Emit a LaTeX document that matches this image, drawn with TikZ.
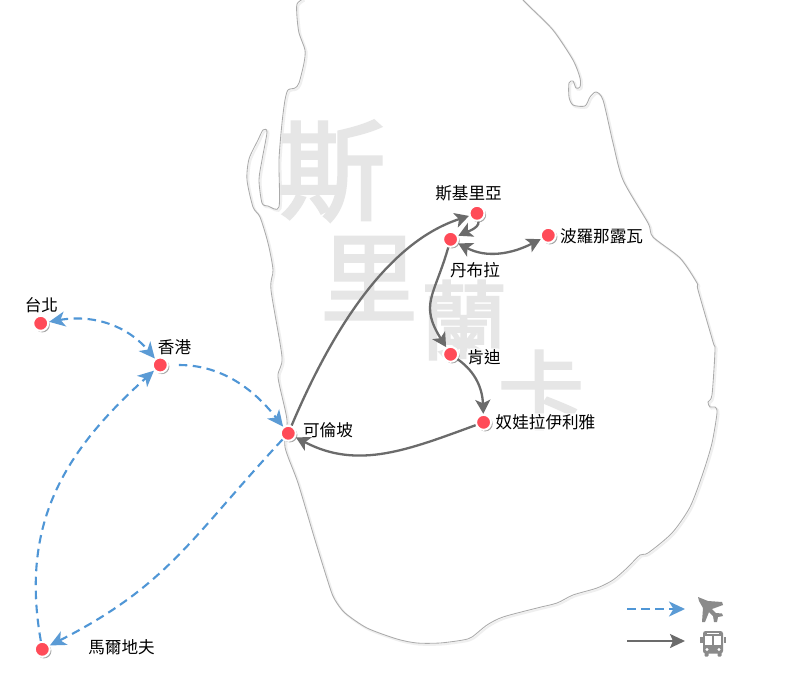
\documentclass[tikz,border=0pt]{standalone}
\usepackage{fontspec}
\setmainfont{Noto Sans CJK TC}
\newfontfamily\ghostfont[FakeBold=2.5]{Noto Sans CJK TC}
\usetikzlibrary{arrows.meta,shadows}
\definecolor{coast}{HTML}{ABABAB}
\definecolor{coastshade}{HTML}{EFEFEF}
\definecolor{mark}{HTML}{FF4B58}
\definecolor{flight}{HTML}{4F96D6}
\definecolor{flighthead}{HTML}{5B9BD5}
\definecolor{road}{HTML}{6B6B6B}
\definecolor{water}{HTML}{E6E6E6}
\definecolor{icon}{HTML}{8A8A8A}
\tikzset{
  stopdot/.style={circle,fill=mark,draw=white,line width=2pt,minimum size=15pt,inner sep=0pt,
    drop shadow={shadow xshift=1.6pt,shadow yshift=-1.6pt,fill=black,opacity=.35}},
  place/.style={font=\fontsize{16.6}{17}\selectfont,text=black,inner sep=1pt},
  halo/.style={fill=white,fill opacity=.85,text opacity=1,rounded corners=4pt},
  ghost/.style={text=water,inner sep=0pt},
  airhead/.tip={Stealth[length=16pt,width=15pt,inset=4.5pt,fill=flighthead,color=flighthead]},
  roadhead/.tip={Stealth[length=14pt,width=15pt,inset=3.5pt,fill=road]},
  airline/.style={draw=flight,line width=2.1pt,dash pattern=on 8.5pt off 5.5pt,-airhead},
  roadline/.style={draw=road,line width=2.3pt,-roadhead},
  both/.style={roadhead-roadhead},
  bothair/.style={airhead-airhead},
}
\newcommand{\coastpath}{
  plot[smooth,tension=.45] coordinates {
  (303,-1)(297,4)(297,17)(299,33)(305,50)(304,63)(299,83)(295,88)(288,90)(285,100)(282,123)(279,160)(279,207)
  (268,206)(262,203)(259,180)(262,160)(267,132)(263,130)(258,140)(249,159)(247,180)(253,207)(260,217)(268,243)
  (273,270)(271,290)(282,357)(278,377)(287,420)(285,447)(298,483)(315,540)(330,588)(335,600)(345,613)(367,628)
  (397,639)(417,643)(440,643)(463,640)(472,637)(487,625)(503,617)(537,608)(557,603)(573,595)(597,588)(613,580)
  (627,568)(640,555)(648,553)(672,533)(690,507)(703,473)(712,443)(717,413)(715,407)(710,407)(708,402)(712,395)
  (715,350)(713,342)(698,290)(697,283)(680,258)(653,237)(648,223)(623,180)(613,143)(603,100)(596,92)(590,97)
  (585,106)(573,105)(569,97)(569,83)(573,81)(576,88)(580,87)(580,78)(573,60)(553,30)(530,7)(522,-1)}
}
\begin{document}
\begin{tikzpicture}[x=1pt,y=-1pt]
\useasboundingbox (0,0) rectangle (785,689);
\fill[white] (0,0) rectangle (785,689);
% coast
\begin{scope}[shift={(1.5,1.5)}]
\draw[coastshade,line width=2pt] \coastpath;
\end{scope}
\draw[coast,line width=.85pt] \coastpath;
% watermark
\node[ghost,font=\fontsize{108}{108}\ghostfont\selectfont] (w1) at (331.5,171) {斯};
\node[ghost,font=\fontsize{97}{97}\ghostfont\selectfont] (w2) at (369,278) {里};
\node[ghost,font=\fontsize{86}{86}\ghostfont\selectfont] (w3) at (464,320) {蘭};
\node[ghost,font=\fontsize{86}{86}\ghostfont\selectfont] (w4) at (541,390) {卡};
% labels
\node[place] (l1) at (468.5,193) {斯基里亞};
\node[place] (l2) at (475,270) {丹布拉};
\node[place] (l3) at (601.5,236) {波羅那露瓦};
\node[place,halo] (l4) at (484,357) {肯迪};
\node[place,halo] (l5) at (545.5,422) {奴娃拉伊利雅};
\node[place] (l6) at (328,430) {可倫坡};
\node[place] (l7) at (121.5,647) {馬爾地夫};
\node[place] (l8) at (41.5,305) {台北};
\node[place] (l9) at (174.5,347) {香港};
% stops
\node[stopdot] (sigiriya) at (477,213.3) {};
\node[stopdot] (dambulla) at (450.6,239.3) {};
\node[stopdot] (polon) at (548.3,235.3) {};
\node[stopdot] (kandy) at (450.6,354.3) {};
\node[stopdot] (nuwara) at (483.6,422.3) {};
\node[stopdot] (colombo) at (288.3,433.3) {};
\node[stopdot] (male) at (42.3,649.3) {};
\node[stopdot] (taipei) at (40.7,323.3) {};
\node[stopdot] (hk) at (160.3,365) {};
% road connectors
\draw[roadline] (colombo) to[out=67,in=198,looseness=.85] (sigiriya);
\draw[roadline] (sigiriya) to[out=-80,in=25,looseness=.7] (dambulla);
\draw[roadline,both] (dambulla) to[out=-28,in=207,looseness=1] (polon);
\draw[roadline] (dambulla) to[out=-106,in=122,looseness=1.3] (kandy);
\draw[roadline] (kandy) to[out=-35,in=92,looseness=1] (nuwara);
\draw[roadline] (nuwara) to[out=200,in=-28,looseness=1] (colombo);
% flight connectors
\draw[airline,shorten <=10pt] (hk) to[out=0,in=128,looseness=1] (colombo);
\draw[airline,bothair] (taipei) to[out=10,in=130,looseness=1] (hk);
\draw[airline] (male) to[out=100,in=222,looseness=1.05] (hk);
\draw[airline] (colombo) to[out=227,in=27,looseness=1.1] (male);
% legend
\coordinate (a1) at (627,609);
\coordinate (a2) at (685,609);
\coordinate (b1) at (627,641);
\coordinate (b2) at (685,641);
\draw[airline] (a1) -- (a2);
\draw[draw=road,line width=1.9pt,-{Stealth[length=15pt,width=14pt,inset=3pt,fill=road]}] (b1) -- (b2);
% plane icon
\fill[icon] (698,597) -- (708,601) -- (722,602) -- (723,605) -- (712,609) -- (716,613) -- (722,613.5) -- (723,616)
  -- (718,617) -- (717,622) -- (714,622) -- (713,616) -- (709,612) -- (705,622) -- (702,622) -- (703,608) -- (699,601) -- cycle;
% bus icon
\fill[icon,rounded corners=2.5pt] (703,631) rectangle (723,653.5);
\fill[icon] (700,637) rectangle (702.5,643);
\fill[icon] (723.5,637) rectangle (726,643);
\fill[icon,rounded corners=1pt] (704.5,652) rectangle (708.5,656.5);
\fill[icon,rounded corners=1pt] (717.5,652) rectangle (721.5,656.5);
\fill[white] (707,632.7) rectangle (719,634.2);
\fill[white] (705,636) rectangle (712,645);
\fill[white] (714,636) rectangle (721,645);
\fill[white] (707,649.5) circle (1.6);
\fill[white] (719,649.5) circle (1.6);
\end{tikzpicture}
\end{document}
